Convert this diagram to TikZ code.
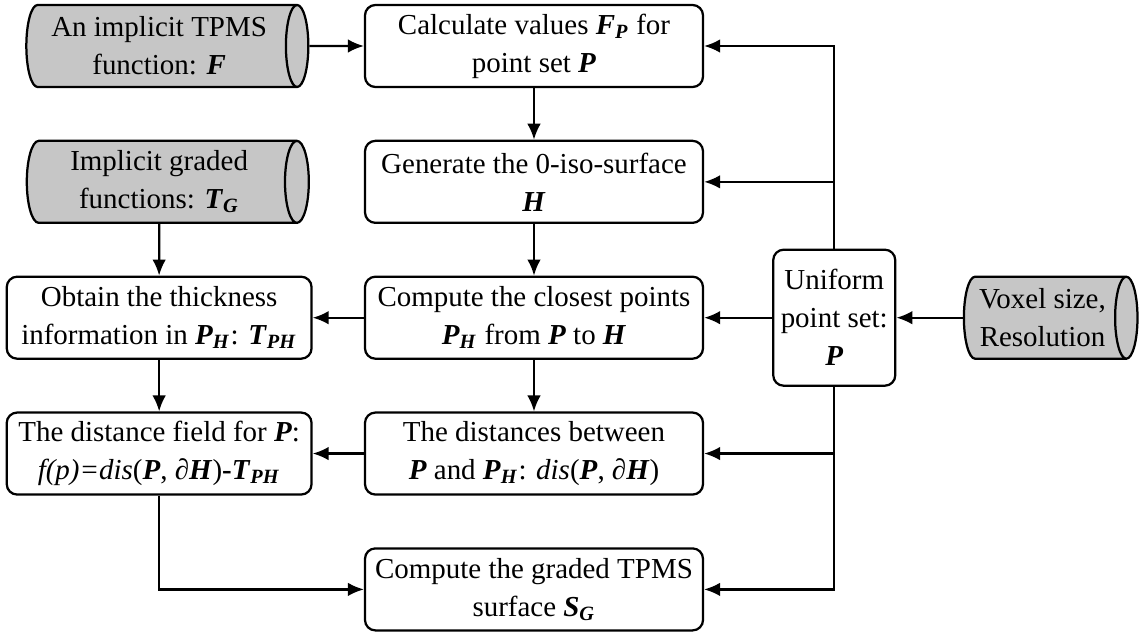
\documentclass[tikz,border=0pt]{standalone}
\usepackage{fontspec}
\setmainfont{Liberation Serif}
\usepackage{tikz}
\usetikzlibrary{arrows.meta,positioning,shapes.geometric}

\newcommand{\bi}[1]{\textbf{\textit{#1}}}
\newcommand{\bisub}[2]{\textbf{\textit{#1}}\textsubscript{\textbf{\textit{#2}}}}

\begin{document}
\begin{tikzpicture}[auto,>={Latex[length=2mm,width=1.7mm]},align=center,
node distance=0.645cm and 0.645cm,
font=\fontsize{10.3}{13.5}\selectfont,
process/.style={rectangle,draw,thick,rounded corners=1.3mm,inner sep=1pt,minimum width=4.225cm,minimum height=1.025cm},
processside/.style={process,minimum width=3.81cm},
pointset/.style={rectangle,draw,thick,rounded corners=1.3mm,inner sep=1pt,minimum width=1.525cm,minimum height=1.7cm},
storage/.style={cylinder,draw,thick,fill=gray!45,aspect=0.35,inner sep=1pt,minimum height=3.525cm,minimum width=1.025cm},
paths/.style={->, thick}
]
\useasboundingbox (-6.675,0.575) rectangle (7.5625,-7.325);

%% Nodes   %%%%%%%%%%%%%%%%%%%%%%%%%%%%%%%%%%%%%%%%%%%%%%%%%%%%%%%%%%%%%%%%%%%%%%%

%% Hauptspalte
\node [process] (Calc) at (0,0)          {Calculate values \bisub{F}{P} for\\point set \bi{P}};
\node [process] (Gen)     [below =of Calc]    {Generate the 0-iso-surface\\\bi{H}};
\node [process] (Closest) [below =of Gen]     {Compute the closest points\\\bisub{P}{H} from \bi{P} to \bi{H}};
\node [process] (Dist)    [below =of Closest] {The distances between\\\bi{P} and \bisub{P}{H}: \textit{dis}(\bi{P}, ∂\bi{H})};
\node [process] (Graded)  [below =of Dist]    {Compute the graded TPMS\\surface \bisub{S}{G}};

%% Linke Spalte
\node [processside] (Obtain) [left =0.64cm of Closest] {Obtain the thickness\\information in \bisub{P}{H}: \bisub{T}{PH}};
\node [processside] (Field)  [left =0.64cm of Dist]    {The distance field for \bi{P}:\\\textit{f(p)=dis}(\bi{P}, ∂\bi{H})\textbf{-}\bisub{T}{PH}};
\node [storage] (TG) [above =of Obtain] {Implicit graded\\functions: \bisub{T}{G}};
\node [storage] (F)  [above =of TG]     {An implicit TPMS\\function: \bi{F}};

%% Rechte Seite
\node [pointset] (Unif)  [right =0.85cm of Closest] {Uniform\\point set:\\\bi{P}};
\node [storage]  (Voxel) [right =0.83cm of Unif, minimum height=2.17cm] {Voxel size,\\Resolution};

%% Pfade %%%%%%%%%%%%%%%%%%%%%%%%%%%%%%%%%%%%%%%%%%%%%%%%%%%%%%%%%%%%%%%%%%%%%%%%%%%

%% Hauptspalte
\draw [paths] (F) to (Calc);
\draw [paths] (Calc) to (Gen);
\draw [paths] (Gen) to (Closest);
\draw [paths] (Closest) to (Dist);

%% Linke Spalte
\draw [paths] (Closest) to (Obtain);
\draw [paths] (Dist) to (Field);
\draw [paths] (TG) to (Obtain);
\draw [paths] (Obtain) to (Field);
\draw [paths] (Field.south) |- (Graded.west);

%% Punktmenge
\draw [paths] (Voxel) to (Unif);
\draw [paths] (Unif) to (Closest);
\foreach \x in {Calc, Gen}
\draw [paths] (Unif.north) |- (\x.east);
\foreach \x in {Dist, Graded}
\draw [paths] (Unif.south) |- (\x.east);

\end{tikzpicture}
\end{document}
